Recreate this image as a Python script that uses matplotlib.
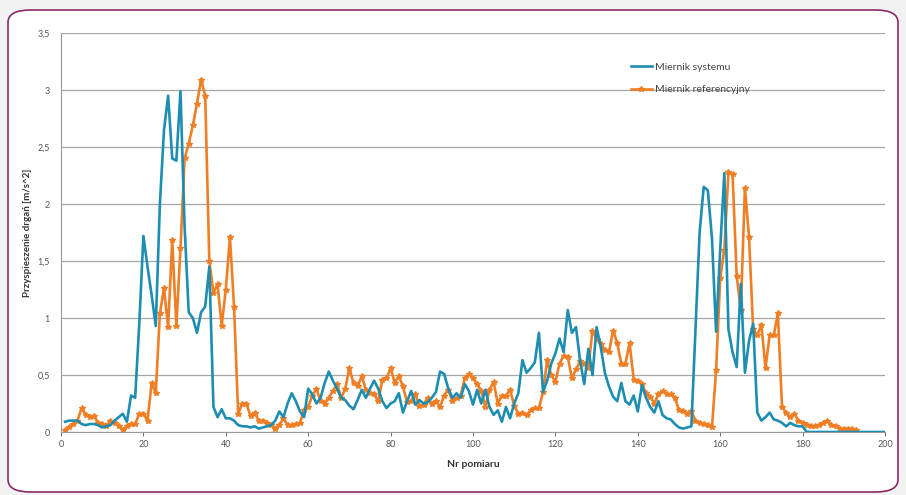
import numpy as np
import matplotlib.pyplot as plt
from matplotlib.patches import FancyBboxPatch

plt.rcParams['font.family'] = ['Lato', 'DejaVu Sans']

# Miernik systemu (x = 1..200)
system = [
    0.09, 0.1, 0.1, 0.1, 0.07, 0.06, 0.07, 0.07, 0.06, 0.04,
    0.05, 0.06, 0.1, 0.13, 0.16, 0.09, 0.32, 0.3, 0.95, 1.72,
    1.45, 1.2, 0.93, 2.0, 2.65, 2.95, 2.4, 2.38, 2.99, 1.8,
    1.05, 1.0, 0.87, 1.05, 1.1, 1.45, 0.22, 0.13, 0.2, 0.12,
    0.12, 0.1, 0.06, 0.05, 0.05, 0.04, 0.05, 0.03, 0.04, 0.05,
    0.06, 0.1, 0.18, 0.13, 0.25, 0.34, 0.27, 0.18, 0.13, 0.38,
    0.33, 0.25, 0.3, 0.43, 0.53, 0.45, 0.38, 0.3, 0.28, 0.23,
    0.2, 0.28, 0.37, 0.3, 0.38, 0.45, 0.38, 0.27, 0.21, 0.25,
    0.27, 0.34, 0.17, 0.27, 0.36, 0.24, 0.28, 0.25, 0.26, 0.3,
    0.35, 0.53, 0.51, 0.38, 0.3, 0.34, 0.3, 0.42, 0.36, 0.24,
    0.37, 0.25, 0.37, 0.22, 0.15, 0.19, 0.09, 0.22, 0.12, 0.25,
    0.34, 0.63, 0.52, 0.56, 0.61, 0.87, 0.35, 0.45, 0.6, 0.69,
    0.82, 0.7, 1.07, 0.87, 0.92, 0.62, 0.42, 0.73, 0.5, 0.92,
    0.75, 0.52, 0.4, 0.31, 0.27, 0.43, 0.27, 0.24, 0.32, 0.18,
    0.41, 0.3, 0.22, 0.17, 0.27, 0.15, 0.12, 0.11, 0.07, 0.04,
    0.03, 0.04, 0.05, 0.9, 1.75, 2.15, 2.12, 1.7, 0.88, 1.6,
    2.27, 0.9, 0.7, 0.57, 1.3, 0.52, 0.8, 0.95, 0.17, 0.1,
    0.13, 0.17, 0.11, 0.1, 0.08, 0.05, 0.08, 0.06, 0.05, 0.05,
    0.0, 0.0, 0.0, 0.0, 0.0, 0.0, 0.0, 0.0, 0.0, 0.0,
    0.0, 0.0, 0.0, 0.0, 0.0, 0.0, 0.0, 0.0, 0.0, 0.0,
]

# Miernik referencyjny (x = 1..193)
reference = [
    0.02, 0.04, 0.07, 0.1, 0.21, 0.15, 0.13, 0.14, 0.08, 0.07,
    0.05, 0.1, 0.08, 0.05, 0.02, 0.05, 0.07, 0.07, 0.16, 0.16,
    0.1, 0.43, 0.34, 1.04, 1.26, 0.92, 1.68, 0.93, 1.61, 2.4,
    2.53, 2.69, 2.88, 3.09, 2.95, 1.5, 1.22, 1.3, 0.93, 1.25,
    1.71, 1.1, 0.16, 0.25, 0.25, 0.14, 0.17, 0.1, 0.1, 0.08,
    0.06, 0.03, 0.06, 0.12, 0.06, 0.06, 0.07, 0.08, 0.19, 0.22,
    0.32, 0.38, 0.27, 0.25, 0.3, 0.36, 0.42, 0.3, 0.38, 0.56,
    0.43, 0.4, 0.49, 0.37, 0.34, 0.33, 0.27, 0.46, 0.47, 0.56,
    0.43, 0.49, 0.4, 0.26, 0.27, 0.33, 0.23, 0.24, 0.3, 0.25,
    0.27, 0.22, 0.32, 0.37, 0.27, 0.3, 0.32, 0.47, 0.51, 0.47,
    0.42, 0.36, 0.22, 0.37, 0.44, 0.25, 0.32, 0.32, 0.37, 0.23,
    0.16, 0.17, 0.15, 0.19, 0.21, 0.21, 0.35, 0.63, 0.5, 0.44,
    0.6, 0.67, 0.66, 0.47, 0.55, 0.62, 0.6, 0.56, 0.89, 0.82,
    0.77, 0.72, 0.7, 0.89, 0.78, 0.6, 0.6, 0.78, 0.46, 0.45,
    0.42, 0.34, 0.31, 0.25, 0.33, 0.36, 0.33, 0.33, 0.3, 0.19,
    0.18, 0.16, 0.18, 0.1, 0.08, 0.07, 0.06, 0.04, 0.54, 1.35,
    1.6, 2.28, 2.26, 1.37, 1.07, 2.14, 1.71, 0.9, 0.85, 0.94,
    0.56, 0.85, 0.85, 1.04, 0.22, 0.17, 0.13, 0.16, 0.1, 0.08,
    0.06, 0.05, 0.05, 0.06, 0.08, 0.1, 0.06, 0.05, 0.03, 0.03,
    0.03, 0.03, 0.02,
]

x_ticks = list(range(0, 201, 20))
y_ticks = [0, 0.5, 1, 1.5, 2, 2.5, 3, 3.5]
y_tick_labels = ["0", "0,5", "1", "1,5", "2", "2,5", "3", "3,5"]

blue = "#1d8db2"
orange = "#ef7e24"

fig = plt.figure(figsize=(9.06, 4.95), dpi=100)
fig.patch.set_facecolor("#f2f2f2")

# rounded white panel with purple border
frame = FancyBboxPatch((8 / 906, 3 / 495), 890 / 906, 482 / 495,
                       boxstyle="round,pad=0,rounding_size=0.025",
                       transform=fig.transFigure, facecolor="white",
                       edgecolor="#8c2a63", linewidth=1.2, zorder=-5)
fig.patches.append(frame)

ax = fig.add_axes([61 / 906, 63 / 495, 824 / 906, 399 / 495])
ax.set_facecolor("none")
ax.set_zorder(2)

x_sys = np.arange(1, len(system) + 1)
x_ref = np.arange(1, len(reference) + 1)

ax.plot(x_sys, system, color=blue, linewidth=1.9, label="Miernik systemu", zorder=3)
ax.plot(x_ref, reference, color=orange, linewidth=1.9, marker="*",
        markersize=4, label="Miernik referencyjny", zorder=2)

ax.set_xlim(0, 200)
ax.set_ylim(0, 3.5)
ax.set_xticks(x_ticks)
ax.set_yticks(y_ticks)
ax.set_yticklabels(y_tick_labels)
ax.tick_params(axis="both", labelsize=6.5, colors="#555555", length=3,
               width=0.6, pad=3)
ax.tick_params(axis="y", length=0, pad=8)

ax.grid(True, axis="y", color="#a6a6a6", linewidth=0.9)
ax.set_axisbelow(True)
for s in ["top", "right"]:
    ax.spines[s].set_visible(False)
ax.spines["left"].set_color("#999999")
ax.spines["bottom"].set_color("#999999")

ax.set_xlabel("Nr pomiaru", fontsize=7.5, fontweight="bold", color="#333333", labelpad=8)
ax.set_ylabel("Przyspieszenie drgań [m/s^2]", fontsize=7, fontweight="bold",
              color="#333333", labelpad=4)

leg = ax.legend(loc="upper left", bbox_to_anchor=(0.68, 0.95), frameon=False,
                fontsize=7.5, handlelength=2.0, labelspacing=1.3, handletextpad=0.3)
for t in leg.get_texts():
    t.set_color("#444444")

fig.savefig("out.png", dpi=100)
